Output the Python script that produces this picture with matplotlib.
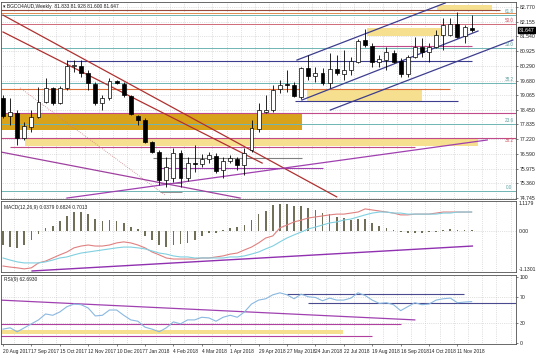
import matplotlib
matplotlib.use("Agg")

import matplotlib.pyplot as plt
import pandas as pd

plt.rcParams["font.family"] = ["Liberation Sans", "DejaVu Sans"]

# ==============================
# DATA (weekly candles)
# ==============================
opens = [78.94, 78.19, 78.32, 77.27, 77.73, 78.15, 78.78, 79.37, 78.74, 79.37,
         80.29, 80.29, 80.00, 79.53, 78.74, 78.94, 79.66, 79.53, 79.03, 78.19,
         78.02, 77.10, 76.68, 75.50, 75.58, 76.63, 75.58, 76.21, 76.17, 76.38,
         76.51, 75.92, 76.30, 76.38, 76.13, 76.76, 77.64, 78.36, 78.44, 79.32,
         79.53, 79.49, 78.99, 80.21, 79.87, 80.00, 79.58, 80.17, 79.95, 80.12,
         80.46, 81.38, 81.13, 80.46, 80.54, 80.84, 80.50, 79.95, 80.67, 81.09,
         80.88, 81.09, 81.59, 81.59, 82.06, 81.55, 81.89]
highs = [79.07, 78.94, 78.44, 77.94, 78.44, 79.41, 79.79, 79.41, 79.45, 80.54,
         80.54, 80.54, 80.12, 79.62, 79.07, 79.79, 79.70, 79.62, 79.07, 78.23,
         78.11, 77.14, 76.76, 76.47, 76.84, 76.76, 76.47, 76.97, 76.59, 76.68,
         76.63, 76.47, 76.55, 76.47, 76.84, 78.02, 78.74, 79.07, 79.49, 79.70,
         80.12, 79.62, 80.25, 80.75, 80.25, 80.21, 80.84, 80.75, 80.96, 80.67,
         81.42, 81.85, 81.26, 80.75, 81.09, 80.96, 80.63, 80.75, 81.51, 81.47,
         81.26, 81.80, 82.31, 82.31, 82.56, 82.01, 82.43]
lows = [78.11, 77.81, 76.97, 77.18, 77.52, 78.11, 78.74, 78.65, 78.69, 79.28,
        80.04, 79.83, 79.28, 78.65, 78.44, 78.86, 79.53, 78.99, 78.23, 77.81,
        77.05, 76.63, 75.29, 75.21, 75.41, 75.21, 75.46, 75.84, 76.05, 76.21,
        75.79, 75.58, 76.21, 75.92, 75.71, 76.68, 77.52, 78.32, 78.36, 79.16,
        79.20, 78.99, 78.90, 79.70, 79.62, 79.49, 79.37, 79.91, 79.70, 79.91,
        80.42, 81.09, 80.25, 80.25, 80.12, 80.42, 79.83, 79.83, 80.63, 80.67,
        80.46, 81.05, 80.96, 81.55, 81.47, 81.26, 81.72]
closes = [78.19, 78.36, 77.27, 77.77, 78.15, 78.78, 79.37, 78.74, 79.37, 80.29,
          80.33, 80.00, 79.58, 78.74, 78.94, 79.66, 79.58, 79.07, 78.27, 78.02,
          77.10, 76.68, 75.50, 76.05, 76.63, 75.58, 76.21, 76.19, 76.38, 76.55,
          75.88, 76.30, 76.42, 76.13, 76.63, 77.69, 78.44, 78.44, 79.28, 79.49,
          79.49, 79.03, 80.21, 79.87, 80.00, 79.58, 80.17, 80.00, 80.12, 80.50,
          81.34, 81.17, 80.46, 80.58, 80.88, 80.46, 79.95, 80.67, 81.09, 80.88,
          81.09, 81.59, 82.01, 82.06, 81.51, 81.93, 81.80]

macd_hist = [-0.54, -0.62, -0.65, -0.54, -0.35, -0.12, 0.12, 0.19, 0.39, 0.58,
             0.73, 0.73, 0.65, 0.46, 0.39, 0.42, 0.39, 0.31, 0.15, 0.08,
             -0.19, -0.35, -0.54, -0.62, -0.54, -0.50, -0.46, -0.35, -0.19, -0.08,
             -0.08, 0.04, 0.12, 0.15, 0.23, 0.42, 0.65, 0.77, 1.00, 1.04,
             1.04, 0.96, 0.96, 0.89, 0.81, 0.69, 0.65, 0.54, 0.50, 0.42,
             0.46, 0.46, 0.31, 0.19, 0.12, 0.04, -0.04, -0.08, -0.08, -0.08,
             -0.04, -0.02, 0.04, 0.08, 0.04, 0.04, 0.02]
macd_main = [-1.35, -1.39, -1.42, -1.46, -1.42, -1.23, -1.16, -1.04, -0.92, -0.81,
             -0.65, -0.58, -0.54, -0.58, -0.58, -0.54, -0.46, -0.42, -0.46, -0.54,
             -0.65, -0.81, -0.92, -1.04, -1.08, -1.08, -1.08, -1.08, -1.04, -1.04,
             -1.00, -0.96, -0.89, -0.85, -0.73, -0.62, -0.46, -0.27, -0.19, 0.12,
             0.23, 0.35, 0.42, 0.50, 0.54, 0.58, 0.62, 0.65, 0.65, 0.69,
             0.73, 0.85, 0.81, 0.77, 0.73, 0.69, 0.62, 0.62, 0.65, 0.65,
             0.65, 0.69, 0.73, 0.73, 0.73, 0.73, 0.73]
macd_signal = [-1.04, -1.12, -1.19, -1.23, -1.23, -1.23, -1.19, -1.12, -1.04, -1.00,
               -0.92, -0.85, -0.81, -0.77, -0.73, -0.69, -0.65, -0.62, -0.62, -0.65,
               -0.69, -0.77, -0.85, -0.89, -0.96, -1.00, -1.00, -1.04, -1.04, -1.04,
               -1.04, -1.04, -1.00, -1.00, -0.96, -0.89, -0.81, -0.69, -0.58, -0.42,
               -0.27, -0.15, -0.04, 0.08, 0.15, 0.23, 0.31, 0.35, 0.42, 0.46,
               0.54, 0.62, 0.69, 0.73, 0.73, 0.69, 0.69, 0.65, 0.65, 0.65,
               0.65, 0.65, 0.69, 0.69, 0.73, 0.73, 0.73]

rsi = [21, 23, 17, 23, 29, 35, 44, 42, 47, 55,
       59, 58, 53, 41, 42, 50, 50, 42, 35, 33,
       24, 21, 17, 23, 32, 29, 35, 35, 39, 38,
       33, 39, 42, 39, 47, 59, 65, 67, 73, 76,
       73, 67, 74, 70, 69, 64, 68, 65, 65, 68,
       76, 72, 65, 60, 61, 58, 49, 55, 61, 58,
       59, 65, 67, 68, 61, 62, 62.69]

dates = pd.date_range("2017-08-20", periods=len(closes), freq="W-SUN")

price_ticks = [82.770, 82.155, 81.540, 80.925, 80.290, 79.680, 79.065,
               78.450, 77.835, 77.220, 76.590, 75.975, 75.360, 74.745]
fib_teal = [82.43, 81.05, 79.58, 77.85, 75.04]
fib_teal_labels = ["61.8", "50.0", "38.2", "23.6", "0.0"]

title_txt = "BGCO4AUD,Weekly  81.833 81.928 81.600 81.647"
macd_txt = "MACD(12,26,9) 0.0379 0.6824 0.7013"
rsi_txt = "RSI(9) 62.6930"
last_price_txt = "81.647"

# ==============================
# FIGURA
# ==============================
W, H = 536, 358
fig = plt.figure(figsize=(W / 100, H / 100), dpi=100)
fig.patch.set_facecolor("white")

def frac(x0, y0, x1, y1):
    return [x0 / W, 1 - y1 / H, (x1 - x0) / W, (y1 - y0) / H]

ax = fig.add_axes(frac(1, 2, 516, 199))
axm = fig.add_axes(frac(1, 201, 516, 272), sharex=ax)
axr = fig.add_axes(frac(1, 275, 516, 344), sharex=ax)

FS = 3.7
GRID = dict(color="#b8b8b8", lw=0.45, ls=(0, (1, 2)))
n = len(closes)
idx = list(range(n))

for a in (ax, axm, axr):
    for s in a.spines.values():
        s.set_color("#505050")
        s.set_linewidth(0.6)
    a.set_facecolor("white")
    for k in range(0, 72, 2):
        a.axvline(k + 1.5, zorder=0, **GRID)
    a.tick_params(axis="both", labelsize=FS, length=1.5, width=0.4, pad=1,
                  colors="#202020")
    a.yaxis.tick_right()

ax.set_xlim(-0.28, 72.25)

# ==============================
# PANEL PRINCIPAL
# ==============================
ax.set_ylim(74.70, 82.98)
ax.set_yticks(price_ticks)
ax.set_yticklabels([f"{p:.3f}" for p in price_ticks])
for p in price_ticks:
    ax.axhline(p, zorder=0, **GRID)
plt.setp(ax.get_xticklabels(), visible=False)
ax.tick_params(axis="x", length=0)

# zonas
ax.fill_between([-0.4, 42.1], 77.60, 78.32, color="#d9a21b", lw=0, zorder=1)
ax.fill_between([3.1, 66.9], 76.93, 77.22, color="#f6df8e", lw=0, zorder=1)
ax.fill_between([61.1, 68.9], 82.64, 82.85, color="#f6df8e", lw=0, zorder=1)
ax.fill_between([51.3, 62.0], 81.55, 81.89, color="#f6df8e", lw=0, zorder=1)
ax.fill_between([42.8, 59.0], 78.82, 79.32, color="#f6df8e", lw=0, zorder=1)

# niveles horizontales
for p, lab in zip(fib_teal, fib_teal_labels):
    ax.axhline(p, color="#6fb5b5", lw=0.7, zorder=2)
    ax.text(71.3, p + 0.05, lab, color="#5fa0a0", fontsize=3.3,
            ha="center", va="bottom", zorder=5)
ax.axhline(82.06, color="#d06a7a", lw=0.7, zorder=2)
ax.text(71.3, 82.11, "50.0", color="#d05060", fontsize=3.3, ha="center",
        va="bottom")
ax.axhline(77.25, color="#c04a8a", lw=0.8, zorder=2)
ax.text(71.3, 77.06, "38.2", color="#d05060", fontsize=3.3, ha="center",
        va="bottom")
ax.axhline(78.31, color="#c04a8a", lw=0.8, zorder=2)
ax.axhline(82.52, color="#e08a50", lw=0.7, zorder=2)
ax.hlines(82.64, -0.4, 70.0, color="#9a4a3a", lw=0.8, zorder=2)
ax.hlines(80.50, 9.0, 66.1, color="#3d3d8f", lw=0.8, zorder=2)
ax.hlines(81.13, 52.1, 66.1, color="#c04a8a", lw=0.8, zorder=2)
ax.hlines(79.32, -0.4, 63.0, color="#e0703a", lw=0.8, zorder=2)
ax.hlines(78.82, 41.1, 64.1, color="#3d3d8f", lw=0.8, zorder=2)
ax.hlines(76.89, 1.0, 58.0, color="#c04a8a", lw=0.8, zorder=2)
ax.hlines(76.43, 21.1, 42.1, color="#808080", lw=0.8, zorder=2)
ax.hlines(76.00, 21.7, 45.1, color="#a040b0", lw=0.8, zorder=2)
ax.hlines([75.37, 74.99], 22.1, 25.2, color="#808080", lw=0.6, zorder=2)

# lineas de tendencia
ax.plot([41.4, 62.3], [80.54, 82.94], color="#3d3d8f", lw=0.9, zorder=2)
ax.plot([42.1, 66.9], [78.86, 81.76], color="#3d3d8f", lw=0.9, zorder=2)
ax.plot([46.1, 71.8], [78.44, 81.38], color="#3d3d8f", lw=0.9, zorder=2)
ax.plot([0, 47.0], [82.43, 74.79], color="#b03030", lw=0.9, zorder=2)
ax.plot([0, 36.5], [81.72, 76.21], color="#b03030", lw=0.9, zorder=2)
ax.plot([2.4, 22.8], [79.37, 74.87], color="#d08080", lw=0.6,
        ls=(0, (1, 1.5)), zorder=2)
ax.plot([-0.4, 33.4], [76.68, 74.74], color="#a040a0", lw=0.9, zorder=2)
ax.plot([9.0, 68.2], [74.74, 77.18], color="#a040b0", lw=0.9, zorder=2)

# velas
for i in idx:
    o, h, l, c = opens[i], highs[i], lows[i], closes[i]
    ax.vlines(i, l, h, color="black", lw=0.6, zorder=3)
    bull = c >= o
    ax.bar(i, abs(c - o) if abs(c - o) > 0.01 else 0.01, 0.56,
           bottom=min(o, c), color="white" if bull else "black",
           edgecolor="black", lw=0.5, zorder=4)

# precio actual
ax.text(1.005, (closes[-1] - 74.70) / (82.98 - 74.70), last_price_txt,
        transform=ax.transAxes, fontsize=FS, color="white", va="center",
        ha="left", bbox=dict(boxstyle="square,pad=0.12", fc="black",
                             ec="black"), zorder=6)

ax.text(0.004, 0.992, "\u25be " + title_txt, transform=ax.transAxes,
        fontsize=3.5, va="top", ha="left", color="#202020")

# ==============================
# MACD
# ==============================
axm.set_ylim(-1.58, 1.155)
axm.set_yticks([])
axm.axhline(0, **GRID)
plt.setp(axm.get_xticklabels(), visible=False)
axm.tick_params(axis="x", length=0)
axm.bar(idx, macd_hist, 0.25, color="#707058", zorder=2)
axm.plot(idx, macd_main, color="#e08080", lw=0.8, zorder=3)
axm.plot(idx, macd_signal, color="#80d0e0", lw=0.8, zorder=3)
axm.plot([4.1, 66.1], [-1.54, -0.58], color="#9030b0", lw=1.0, zorder=3)
axm.text(0.005, 0.95, macd_txt, transform=axm.transAxes, fontsize=3.5,
         va="top", ha="left", color="#202020")
for yy, lab in [(0.97, "1.1179"), (0.575, "0.00"), (0.035, "-1.1301")]:
    axm.text(1.006, yy, lab, transform=axm.transAxes, fontsize=FS,
             va="center", ha="left", color="#202020")

# ==============================
# RSI
# ==============================
axr.set_ylim(-1.5, 103)
axr.set_yticks([0, 30, 70, 100])
axr.set_yticklabels(["0", "30", "70", "100"])
axr.axhline(30, **GRID)
axr.axhline(70, **GRID)
axr.fill_between([-0.4, 47.9], 14, 20, color="#f6df8e", lw=0, zorder=1)
axr.plot([-0.4, 58.0], [65, 35], color="#a040b0", lw=0.9, zorder=2)
axr.hlines(29, -0.4, 56.0, color="#b040a0", lw=0.8, zorder=2)
axr.hlines(11, -0.4, 52.0, color="#b040a0", lw=0.8, zorder=2)
axr.hlines(74, 40.0, 64.9, color="#4a4a90", lw=0.8, zorder=2)
axr.hlines(61, 43.0, 72.3, color="#4a4a90", lw=0.8, zorder=2)
axr.plot(idx, rsi, color="#8ab8e0", lw=0.8, zorder=3)
axr.text(0.005, 0.97, rsi_txt, transform=axr.transAxes, fontsize=3.5,
         va="top", ha="left", color="#202020")

xt = list(range(0, n, 4))
axr.set_xticks(xt)
axr.set_xticklabels([f"{dates[k].day} {dates[k]:%b %Y}" for k in xt],
                    ha="left", fontsize=3.5)
axr.tick_params(axis="x", length=1.5, pad=2)

plt.savefig("out.png", dpi=100)
plt.close()
